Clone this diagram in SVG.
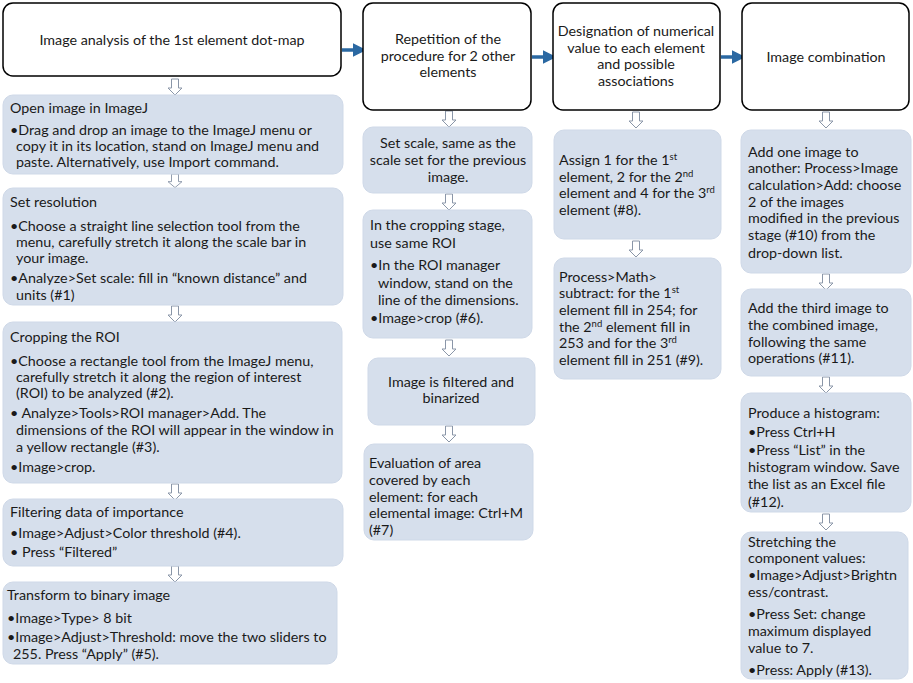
<svg xmlns="http://www.w3.org/2000/svg" width="913" height="683" viewBox="0 0 913 683">
<defs>
<style>
text{font-family:Lato,"Liberation Sans",sans-serif;font-size:14.3px;fill:#1a1a1a}
.c{text-anchor:middle}
.hdr{fill:#fff;stroke:#000;stroke-width:1.5}
.box{fill:#d6dfec;stroke:#cfd9e8;stroke-width:1}
.da{fill:#fff;stroke:#8a96a8;stroke-width:1}
.conn{stroke:#2a68a2;stroke-width:3.5;fill:none}
.sup{font-size:9.5px}
</style>
<path id="dn" d="M-3.5,0 H3.5 V9 H7 L0,16 L-7,9 H-3.5 Z" class="da"/>
<marker id="ah" markerWidth="4" markerHeight="4" refX="1" refY="2" orient="auto" markerUnits="strokeWidth" viewBox="0 0 4 4"><path d="M0,0 L4,2 L0,4 Z" fill="#2a68a2"/></marker>
</defs>
<rect width="913" height="683" fill="#fff"/>

<g id="connectors">
<line class="conn" x1="342" y1="50" x2="356" y2="50" marker-end="url(#ah)"/>
<line class="conn" x1="532" y1="57" x2="546" y2="57" marker-end="url(#ah)"/>
<line class="conn" x1="721" y1="57" x2="735" y2="57" marker-end="url(#ah)"/>
<use href="#dn" transform="translate(175,79)"/>
<use href="#dn" transform="translate(175,174) scale(1,0.85)"/>
<use href="#dn" transform="translate(175,306)"/>
<use href="#dn" transform="translate(175,484)"/>
<use href="#dn" transform="translate(175,566)"/>
<use href="#dn" transform="translate(449,111)"/>
<use href="#dn" transform="translate(449,194)"/>
<use href="#dn" transform="translate(449,340)"/>
<use href="#dn" transform="translate(449,426)"/>
<use href="#dn" transform="translate(636,112)"/>
<use href="#dn" transform="translate(636,241)"/>
<use href="#dn" transform="translate(826,112)"/>
<use href="#dn" transform="translate(826,274)"/>
<use href="#dn" transform="translate(826,377)"/>
<use href="#dn" transform="translate(826,514)"/>
</g>

<g id="h1">
<rect class="hdr" x="3" y="3" width="338" height="73" rx="10"/>
<text class="c" x="172" y="45">Image analysis of the 1st element dot-map</text>
</g>
<g id="h2">
<rect class="hdr" x="363" y="3" width="168" height="107" rx="10"/>
<text class="c" x="448" y="44">Repetition of the</text>
<text class="c" x="448" y="60.5">procedure for 2 other</text>
<text class="c" x="448" y="77">elements</text>
</g>
<g id="h3">
<rect class="hdr" x="553" y="3" width="167" height="107" rx="10"/>
<text class="c" x="636" y="36">Designation of numerical</text>
<text class="c" x="636" y="52.5">value to each element</text>
<text class="c" x="636" y="69">and possible</text>
<text class="c" x="636" y="85.5">associations</text>
</g>
<g id="h4">
<rect class="hdr" x="742" y="3" width="167" height="107" rx="10"/>
<text class="c" x="826" y="62">Image combination</text>
</g>

<g id="l1">
<rect class="box" x="3" y="95" width="340" height="79" rx="10"/>
<text x="10" y="113">Open image in ImageJ</text>
<text x="10" y="135">•Drag and drop an image to the ImageJ menu or</text>
<text x="16" y="151">copy it in its location, stand on ImageJ menu and</text>
<text x="16" y="167">paste. Alternatively, use Import command.</text>
</g>
<g id="l2">
<rect class="box" x="3" y="188" width="340" height="117" rx="10"/>
<text x="10" y="207">Set resolution</text>
<text x="10" y="231">•Choose a straight line selection tool from the</text>
<text x="16" y="247">menu, carefully stretch it along the scale bar in</text>
<text x="16" y="263">your image.</text>
<text x="10" y="283">•Analyze&gt;Set scale: fill in “known distance” and</text>
<text x="16" y="300">units (#1)</text>
</g>
<g id="l3">
<rect class="box" x="3" y="322" width="339" height="161" rx="10"/>
<text x="10" y="342">Cropping the ROI</text>
<text x="10" y="366">•Choose a rectangle tool from the ImageJ menu,</text>
<text x="16" y="382">carefully stretch it along the region of interest</text>
<text x="16" y="398">(ROI) to be analyzed (#2).</text>
<text x="10" y="418">• Analyze&gt;Tools&gt;ROI  manager&gt;Add. The</text>
<text x="16" y="435">dimensions of the ROI will appear in the window in</text>
<text x="16" y="452">a yellow rectangle (#3).</text>
<text x="10" y="472">•Image&gt;crop.</text>
</g>
<g id="l4">
<rect class="box" x="3" y="499" width="340" height="67" rx="10"/>
<text x="10" y="517">Filtering data of importance</text>
<text x="10" y="538">•Image&gt;Adjust&gt;Color threshold (#4).</text>
<text x="10" y="557">• Press “Filtered”</text>
</g>
<g id="l5">
<rect class="box" x="3" y="582" width="334" height="82" rx="10"/>
<text x="7" y="600">Transform to binary image</text>
<text x="7" y="623">•Image&gt;Type&gt; 8 bit</text>
<text x="7" y="642">•Image&gt;Adjust&gt;Threshold: move the two sliders to</text>
<text x="13" y="659">255. Press “Apply” (#5).</text>
</g>

<g id="m1">
<rect class="box" x="363" y="127" width="169" height="66" rx="10"/>
<text class="c" x="448" y="148">Set scale, same as the</text>
<text class="c" x="448" y="165">scale set for the previous</text>
<text class="c" x="448" y="182">image.</text>
</g>
<g id="m2">
<rect class="box" x="363" y="210" width="169" height="128" rx="10"/>
<text x="370" y="230">In the cropping stage,</text>
<text x="370" y="248">use same ROI</text>
<text x="370" y="270">•In the ROI manager</text>
<text x="378" y="288">window, stand on the</text>
<text x="378" y="305">line of the dimensions.</text>
<text x="370" y="323">•Image&gt;crop (#6).</text>
</g>
<g id="m3">
<rect class="box" x="368" y="358" width="167" height="67" rx="10"/>
<text class="c" x="451" y="387">Image is filtered and</text>
<text class="c" x="451" y="403">binarized</text>
</g>
<g id="m4">
<rect class="box" x="364" y="444" width="169" height="96" rx="10"/>
<text x="369" y="468">Evaluation of area</text>
<text x="369" y="485">covered by each</text>
<text x="369" y="502">element: for each</text>
<text x="369" y="518">elemental image: Ctrl+M</text>
<text x="369" y="535">(#7)</text>
</g>

<g id="c1">
<rect class="box" x="554" y="130" width="167" height="109" rx="10"/>
<text x="559" y="165">Assign 1 for the 1<tspan class="sup" dy="-5">st</tspan></text>
<text x="559" y="182">element, 2 for the 2<tspan class="sup" dy="-5">nd</tspan></text>
<text x="559" y="198">element and 4 for the 3<tspan class="sup" dy="-5">rd</tspan></text>
<text x="559" y="215">element (#8).</text>
</g>
<g id="c2">
<rect class="box" x="554" y="258" width="167" height="121" rx="10"/>
<text x="559" y="282">Process&gt;Math&gt;</text>
<text x="559" y="298">subtract: for the 1<tspan class="sup" dy="-5">st</tspan></text>
<text x="559" y="315">element fill in 254; for</text>
<text x="559" y="332">the 2<tspan class="sup" dy="-5">nd</tspan><tspan dy="5"> element fill in</tspan></text>
<text x="559" y="348">253 and for the 3<tspan class="sup" dy="-5">rd</tspan></text>
<text x="559" y="365">element fill in 251 (#9).</text>
</g>

<g id="d1">
<rect class="box" x="741" y="130" width="170" height="143" rx="10"/>
<text x="748" y="157">Add one image to</text>
<text x="748" y="173">another: Process&gt;Image</text>
<text x="748" y="190">calculation&gt;Add: choose</text>
<text x="748" y="207">2 of the images</text>
<text x="748" y="223">modified in the previous</text>
<text x="748" y="240">stage (#10) from the</text>
<text x="748" y="258">drop-down list.</text>
</g>
<g id="d2">
<rect class="box" x="741" y="289" width="170" height="87" rx="10"/>
<text x="748" y="313">Add the third image to</text>
<text x="748" y="330">the combined image,</text>
<text x="748" y="347">following the same</text>
<text x="748" y="363">operations (#11).</text>
</g>
<g id="d3">
<rect class="box" x="741" y="393" width="170" height="119" rx="10"/>
<text x="748" y="418">Produce a histogram:</text>
<text x="748" y="437">•Press Ctrl+H</text>
<text x="748" y="455">•Press “List” in the</text>
<text x="748" y="472">histogram window. Save</text>
<text x="748" y="489">the list as an Excel file</text>
<text x="748" y="507">(#12).</text>
</g>
<g id="d4">
<rect class="box" x="741" y="532" width="167" height="147" rx="10"/>
<text x="748" y="547">Stretching the</text>
<text x="748" y="563">component values:</text>
<text x="748" y="580">•Image&gt;Adjust&gt;Brightn</text>
<text x="748" y="597">ess/contrast.</text>
<text x="748" y="619">•Press Set: change</text>
<text x="748" y="636">maximum displayed</text>
<text x="748" y="653">value to 7.</text>
<text x="748" y="675">•Press: Apply (#13).</text>
</g>
</svg>
